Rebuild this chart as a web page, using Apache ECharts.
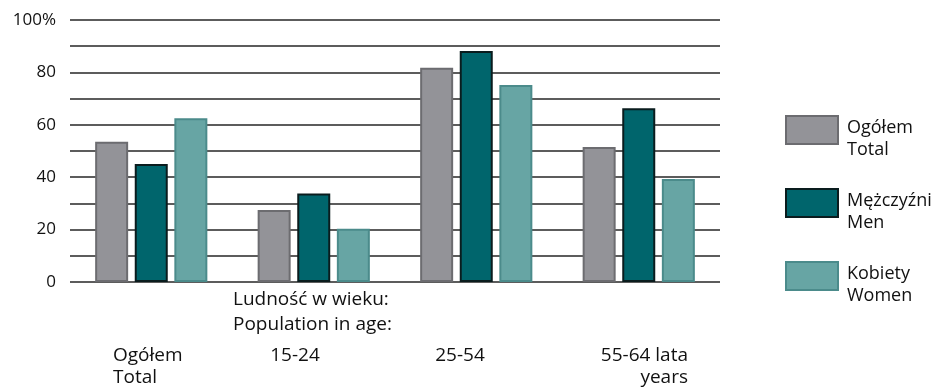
<!DOCTYPE html>
<html>
<head>
<meta charset="utf-8">
<script src="https://cdn.jsdelivr.net/npm/echarts@6/dist/echarts.min.js"></script>
<style>
  html, body { margin: 0; padding: 0; background: #fff; }
  #chart { width: 937px; height: 389px; }
</style>
</head>
<body>
<div id="chart"></div>
<script>
const categories = ["Ogółem", "15-24", "25-54", "55-64"];
const totalValues = [53.5, 27.5, 81.8, 51.5];
const menValues = [45, 33.8, 88.2, 66.3];
const womenValues = [62.5, 20.3, 75.2, 39.3];
const seriesNames = ["Ogółem\nTotal", "Mężczyźni\nMen", "Kobiety\nWomen"];
const axisTitleLines = ["Ludność w wieku:", "Population in age:"];
const categoryLabels = ["Ogółem\nTotal", "15-24", "25-54", "55-64 lata\nyears"];

const FONT = "'Open Sans', sans-serif";
const TEXT_COLOR = "#111";

const chart = echarts.init(document.getElementById("chart"));

function barSeries(name, data, fill, border) {
  return {
    name,
    type: "bar",
    data,
    barWidth: 33,
    barGap: "20%",
    itemStyle: { color: fill, borderColor: border, borderWidth: 2 }
  };
}

// category labels sit off-centre in the source, so place them as text
const labelSpots = [
  { x: 113, align: "left" },
  { x: 295, align: "center" },
  { x: 460, align: "center" },
  { x: 688, align: "right" }
];

const graphics = [
  {
    type: "text",
    x: 233,
    y: 287,
    style: {
      text: axisTitleLines.join("\n"),
      font: "19px " + FONT,
      lineHeight: 25,
      fill: TEXT_COLOR
    }
  }
].concat(categoryLabels.map((text, i) => ({
  type: "text",
  x: labelSpots[i].x,
  y: 345,
  style: {
    text,
    font: "19px " + FONT,
    lineHeight: 22,
    align: labelSpots[i].align,
    fill: TEXT_COLOR
  }
})));

// legend text hangs below the swatch centre: a blank spacer line pushes it down
function legendLabel(name) {
  return ["{s| }"].concat(name.split("\n").map((line) => `{t|${line}}`)).join("\n");
}

chart.setOption({
  animation: false,
  textStyle: { fontFamily: FONT },
  grid: { left: 70, right: 217, top: 20, bottom: 107 },
  legend: {
    orient: "vertical",
    left: 780,
    top: 100,
    itemWidth: 52,
    itemHeight: 28,
    itemGap: 19,
    icon: "rect",
    formatter: legendLabel,
    textStyle: {
      color: TEXT_COLOR,
      padding: [0, 0, 0, 4],
      rich: {
        s: { fontSize: 6, lineHeight: 18 },
        t: { fontSize: 18, lineHeight: 22, color: TEXT_COLOR, fontFamily: FONT }
      }
    }
  },
  xAxis: {
    type: "category",
    data: categories,
    axisLine: { show: false },
    axisTick: { show: false },
    axisLabel: { show: false }
  },
  yAxis: {
    type: "value",
    min: 0,
    max: 100,
    interval: 10,
    axisLine: { show: false },
    axisTick: { show: false },
    axisLabel: {
      margin: 14,
      fontSize: 17,
      color: TEXT_COLOR,
      formatter: (v) => (v === 100 ? "100%" : v % 20 === 0 ? String(v) : "")
    },
    splitLine: { lineStyle: { color: "#262626", width: 1.6 } }
  },
  series: [
    barSeries(seriesNames[0], totalValues, "#939398", "#6c6c70"),
    barSeries(seriesNames[1], menValues, "#00656c", "#0a1c1e"),
    barSeries(seriesNames[2], womenValues, "#67a5a4", "#4b8b8b")
  ],
  graphic: graphics
});
</script>
</body>
</html>
